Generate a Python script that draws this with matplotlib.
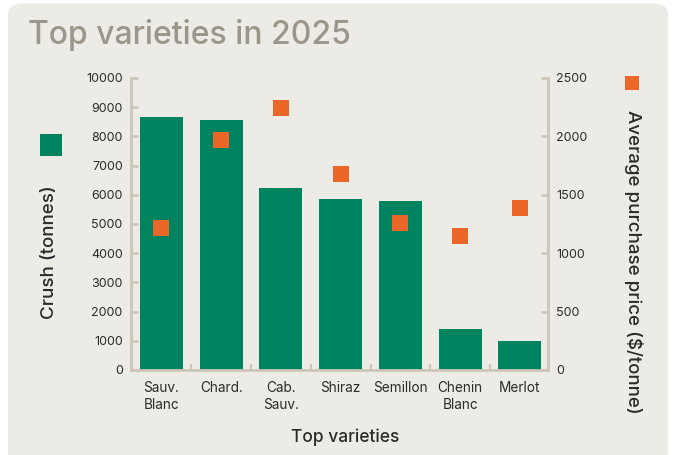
import matplotlib.pyplot as plt
from matplotlib.patches import FancyBboxPatch, Rectangle

varieties = ["Sauv.\nBlanc", "Chard.", "Cab.\nSauv.", "Shiraz", "Semillon", "Chenin\nBlanc", "Merlot"]
crush_tonnes = [8660, 8570, 6250, 5870, 5800, 1410, 1000]
avg_price = [1220, 1970, 2245, 1680, 1255, 1145, 1385]

GREEN = "#00835f"
ORANGE = "#ec6627"
BG = "#ecebe6"
AXIS = "#cdc6b8"
TEXT = "#2b2b2b"

plt.rcParams["font.family"] = ["Inter", "DejaVu Sans"]

fig = plt.figure(figsize=(6.78, 4.55), dpi=100)
fig.patch.set_facecolor("white")

# rounded card background
card = FancyBboxPatch((8 / 678, -0.1), 660 / 678, 1.093, transform=fig.transFigure,
                      boxstyle="round,pad=0,rounding_size=0.025",
                      facecolor=BG, edgecolor="none", zorder=-10)
fig.patches.append(card)

fig.text(28 / 678, 1 - 35 / 455, "Top varieties in 2025", fontsize=23, color="#9b958a",
         va="center", ha="left", fontweight="medium")

ax = fig.add_axes([131 / 678, 1 - 370 / 455, 417 / 678, 292 / 455])
ax.set_facecolor("none")
x = list(range(len(varieties)))
ax.bar(x, crush_tonnes, width=0.72, color=GREEN, zorder=2)
ax.set_xlim(-0.51, 6.47)
ax.set_ylim(0, 10000)
ax.set_yticks(range(0, 10001, 1000))
ax.set_xticks(x)
ax.set_xticklabels(varieties, fontsize=9.8, color=TEXT, linespacing=1.25)
ax.set_xticks([i + 0.5 for i in range(6)], minor=True)
ax.tick_params(axis="x", which="major", length=0, pad=8)
ax.tick_params(axis="x", which="minor", direction="in", length=4, width=1.5, color=AXIS)
ax.tick_params(axis="y", direction="in", length=5, width=2, color=AXIS, labelsize=9, labelcolor=TEXT, pad=6)
for s in ["top", "right"]:
    ax.spines[s].set_visible(False)
for s in ["left", "bottom"]:
    ax.spines[s].set_color(AXIS)
    ax.spines[s].set_linewidth(2)

ax2 = ax.twinx()
ax2.plot(x, avg_price, linestyle="none", marker="s", markersize=11.5, color=ORANGE,
         markeredgewidth=0, zorder=3)
ax2.set_ylim(0, 2500)
ax2.set_yticks(range(0, 2501, 500))
ax2.tick_params(axis="y", direction="in", length=5, width=2, color=AXIS, labelsize=9, labelcolor=TEXT, pad=6)
for s in ["top", "left", "bottom"]:
    ax2.spines[s].set_visible(False)
ax2.spines["right"].set_color(AXIS)
ax2.spines["right"].set_linewidth(2)

# axis titles placed like the source layout
fig.text(50 / 678, 1 - 252 / 455, "Crush (tonnes)", fontsize=13.5, color=TEXT, fontweight="medium",
         rotation=90, ha="center", va="center")
fig.text(634 / 678, 1 - 262 / 455, "Average purchase price ($/tonne)", fontsize=13.5, color=TEXT,
         fontweight="medium", rotation=270, ha="center", va="center")
fig.text(345 / 678, 1 - 437 / 455, "Top varieties", fontsize=12.5, color=TEXT, fontweight="medium",
         ha="center", va="center")

# legend swatches next to axis titles
fig.patches.append(Rectangle((40 / 678, 1 - 156 / 455), 22 / 678, 22 / 455, transform=fig.transFigure,
                             facecolor=GREEN, edgecolor="none"))
fig.patches.append(Rectangle((625 / 678, 1 - 90 / 455), 14 / 678, 14 / 455, transform=fig.transFigure,
                             facecolor=ORANGE, edgecolor="none"))

fig.savefig("out.png", dpi=100, facecolor=fig.get_facecolor())
